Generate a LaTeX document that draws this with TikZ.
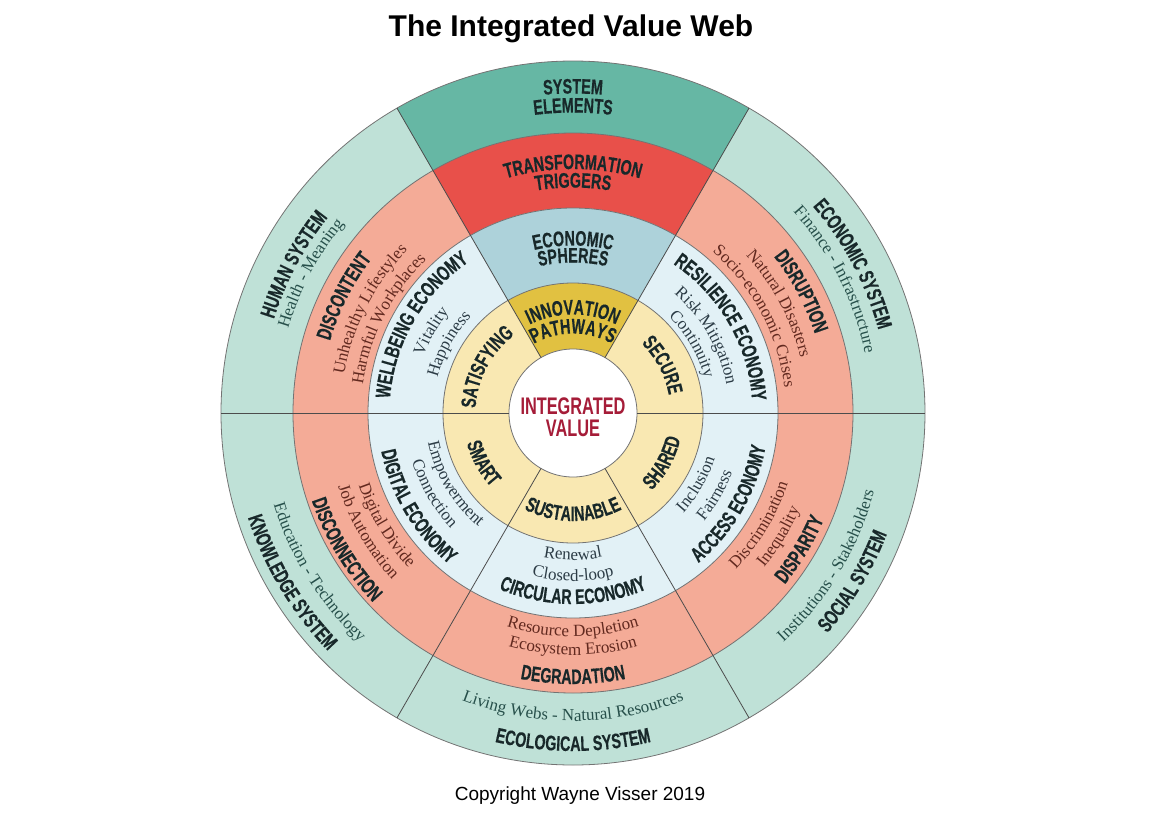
\documentclass[tikz,border=0pt]{standalone}
\usepackage{fontspec}
\setmainfont{Liberation Serif}
\newfontfamily\arialfnt{Liberation Sans}
\newfontfamily\condfnt{Liberation Sans}[FakeStretch=0.68,FakeBold=0.4]
\newfontfamily\centfnt{Liberation Sans}[FakeStretch=0.68]
\usetikzlibrary{decorations.text}
\definecolor{outerteal}{HTML}{BFE1D7}
\definecolor{darkteal}{HTML}{66B7A4}
\definecolor{salmon}{HTML}{F4AB97}
\definecolor{trred}{HTML}{E8504A}
\definecolor{lightblue}{HTML}{E2F1F6}
\definecolor{spheres}{HTML}{ADD2DA}
\definecolor{lightyellow}{HTML}{F9E8B2}
\definecolor{gold}{HTML}{E1C141}
\definecolor{valred}{HTML}{A51C38}
\definecolor{ink}{HTML}{18282A}
\definecolor{tealtxt}{HTML}{264F4A}
\definecolor{salmtxt}{HTML}{62291F}
\definecolor{bluetxt}{HTML}{2C3C46}
\newcommand\headfnt{\condfnt\bfseries\fontsize{21}{25}\selectfont}
\newcommand\subfnt{\fontsize{17}{20}\selectfont}
\newcommand\cwline[5]{\path[decorate,decoration={text along path,text align=center,text color=#4,text={|#3|#5}}] ({#2+40}:{#1}) arc[start angle={#2+40},end angle={#2-40},radius={#1}];}
\newcommand\ccwline[5]{\path[decorate,decoration={text along path,text align=center,text color=#4,text={|#3|#5}}] ({#2-40}:{#1}) arc[start angle={#2-40},end angle={#2+40},radius={#1}];}
\newcommand\cwH[3]{\cwline{#1-7.5}{#2}{\headfnt}{ink}{#3}}
\newcommand\ccwH[3]{\ccwline{#1+7.5}{#2}{\headfnt}{ink}{#3}}
\newcommand\cwS[4]{\cwline{#1-5}{#2}{\subfnt}{#3}{#4}}
\newcommand\ccwS[4]{\ccwline{#1+5}{#2}{\subfnt}{#3}{#4}}
\tikzset{
  ringline/.style={draw=black!55,line width=0.8pt},
  spoke/.style={draw=black!70,line width=0.8pt}
}
\begin{document}
\begin{tikzpicture}[x=1pt,y=1pt]
\useasboundingbox (-573,-410) rectangle (597,413);
% rings
\fill[outerteal] (0,0) circle[radius=352];
\fill[darkteal] (0,0) -- (60:352) arc[start angle=60,end angle=120,radius=352] -- cycle;
\fill[salmon] (0,0) circle[radius=280];
\fill[trred] (0,0) -- (60:280) arc[start angle=60,end angle=120,radius=280] -- cycle;
\fill[lightblue] (0,0) circle[radius=205];
\fill[spheres] (0,0) -- (60:205) arc[start angle=60,end angle=120,radius=205] -- cycle;
\fill[lightyellow] (0,0) circle[radius=130];
\fill[gold] (0,0) -- (60:130) arc[start angle=60,end angle=120,radius=130] -- cycle;
\fill[white] (0,0) circle[radius=64];
\foreach \r in {64,130,205,280,352} \draw[ringline] (0,0) circle[radius=\r];
\foreach \a in {0,60,...,300} \draw[spoke] (\a:64) -- (\a:352);
% top sector
\cwH{327}{90}{SYSTEM}
\cwH{308}{90}{ELEMENTS}
\cwH{251.5}{90}{TRANSFORMATION}
\cwH{233}{90}{TRIGGERS}
\cwH{175}{90}{ECONOMIC}
\cwH{158}{90}{SPHERES}
\cwH{106}{90}{INNOVATION}
\cwH{87}{90}{PATHWAYS}
% upper left
\cwH{321}{152}{HUMAN SYSTEM}
\cwS{302}{152}{tealtxt}{Health - Meaning}
\cwH{261}{153}{DISCONTENT}
\cwS{237}{153}{salmtxt}{Unhealthy Lifestyles}
\cwS{217}{153}{salmtxt}{Harmful Workplaces}
\cwH{191}{150}{WELLBEING ECONOMY}
\cwS{165}{150}{bluetxt}{Vitality}
\cwS{145}{151}{bluetxt}{Happiness}
\cwH{105}{152}{SATISFYING}
% upper right
\cwH{324}{28}{ECONOMIC SYSTEM}
\cwS{303}{27}{tealtxt}{Finance - Infrastructure}
\cwH{262}{28}{DISRUPTION}
\cwS{239}{28}{salmtxt}{Natural Disasters}
\cwS{218}{28}{salmtxt}{Socio-economic Crises}
\cwH{187}{30}{RESILIENCE ECONOMY}
\cwS{161}{30}{bluetxt}{Risk Mitigation}
\cwS{141}{30}{bluetxt}{Continuity}
\cwH{105}{28}{SECURE}
% lower left
\ccwH{334}{211}{KNOWLEDGE SYSTEM}
\ccwS{308}{212}{tealtxt}{Education - Technology}
\ccwH{268}{211}{DISCONNECTION}
\ccwS{241}{210}{salmtxt}{Job Automation}
\ccwS{221}{211}{salmtxt}{Digital Divide}
\ccwH{188}{211}{DIGITAL ECONOMY}
\ccwS{163}{210}{bluetxt}{Connection}
\ccwS{143}{211}{bluetxt}{Empowerment}
\ccwH{103}{209}{SMART}
% bottom
\ccwH{330.5}{270}{ECOLOGICAL SYSTEM}
\ccwS{303}{270}{tealtxt}{Living Webs - Natural Resources}
\ccwH{263.5}{270}{DEGRADATION}
\ccwS{237}{270}{salmtxt}{Ecosystem Erosion}
\ccwS{218.5}{270}{salmtxt}{Resource Depletion}
\ccwH{183.5}{270}{CIRCULAR ECONOMY}
\ccwS{163}{270}{bluetxt}{Closed-loop}
\ccwS{142}{270}{bluetxt}{Renewal}
\ccwH{100.5}{270}{SUSTAINABLE}
% lower right
\ccwH{329}{329}{SOCIAL SYSTEM}
\ccwS{306}{329}{tealtxt}{Institutions - Stakeholders}
\ccwH{265}{329}{DISPARITY}
\ccwS{241}{329}{salmtxt}{Inequality}
\ccwS{221}{329}{salmtxt}{Discrimination}
\ccwH{188}{330}{ACCESS ECONOMY}
\ccwS{165}{330}{bluetxt}{Fairness}
\ccwS{144}{330}{bluetxt}{Inclusion}
\ccwH{103}{331}{SHARED}
% centre
\node[text=valred,font={\centfnt\bfseries\fontsize{24}{24}\selectfont}] (iv1) at (0,7.2) {INTEGRATED};
\node[text=valred,font={\centfnt\bfseries\fontsize{24}{24}\selectfont}] (iv2) at (0,-15.3) {VALUE};
% title and copyright
\node[anchor=base,font={\arialfnt\bfseries\fontsize{30}{36}\selectfont}] (title) at (-2,377) {The Integrated Value Web};
\node[anchor=base,font={\arialfnt\fontsize{19}{23}\selectfont}] (copy) at (7,-387) {Copyright Wayne Visser 2019};
\end{tikzpicture}
\end{document}
